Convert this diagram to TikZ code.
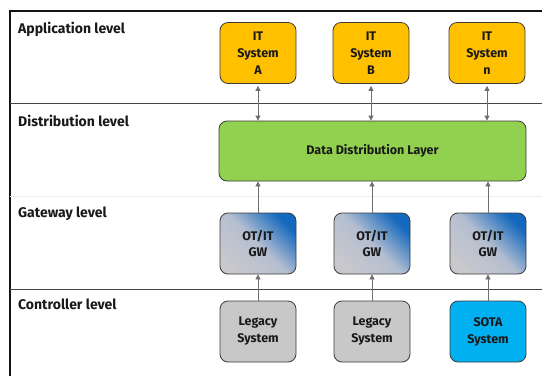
\documentclass[tikz,border=0pt]{standalone}
\usepackage{fontspec}
\setmainfont{Fira Sans}
\usetikzlibrary{
    arrows.meta,
    positioning
}
\definecolor{ink}{RGB}{25,25,25}
\definecolor{frame}{RGB}{20,20,20}
\definecolor{rule}{RGB}{70,70,70}
\definecolor{faintrule}{RGB}{238,238,240}
\definecolor{boxline}{RGB}{60,60,60}
\definecolor{wire}{RGB}{110,110,110}
\definecolor{appfill}{RGB}{255,192,0}
\definecolor{distfill}{RGB}{146,208,80}
\definecolor{gwgray}{RGB}{200,200,205}
\definecolor{gwmid}{RGB}{180,190,208}
\definecolor{gwblue}{RGB}{20,105,190}
\definecolor{legacyfill}{RGB}{200,200,200}
\definecolor{sotafill}{RGB}{0,176,240}
\tikzset{
    line cap=round,
    line join=round,
    levellabel/.style={
        font=\fontsize{14}{16}\selectfont\bfseries,
        text=ink,
        anchor=north west,
        inner sep=0pt
    },
    sysbox/.style={
        rectangle,
        draw=boxline,
        line width=0.8pt,
        rounded corners=8pt,
        minimum width=76pt,
        minimum height=61pt,
        align=center,
        font=\fontsize{12.5}{17}\selectfont\bfseries,
        text=ink
    },
    appbox/.style={sysbox, fill=appfill},
    distbox/.style={sysbox, fill=distfill, minimum width=307pt, minimum height=60pt},
    gwbox/.style={
        sysbox,
        top color=gwgray,
        bottom color=gwblue,
        middle color=gwmid,
        shading angle=135
    },
    legacybox/.style={sysbox, fill=legacyfill},
    sotabox/.style={sysbox, fill=sotafill},
    levelrule/.style={draw=rule, line width=0.7pt},
    link/.style={
        draw=wire,
        line width=0.8pt,
        -{Triangle[width=5pt,length=5pt]}
    },
    bilink/.style={
        link,
        {Triangle[width=5pt,length=5pt]}-{Triangle[width=5pt,length=5pt]}
    }
}

\begin{document}
\begin{tikzpicture}[x=1pt, y=-1pt]
\useasboundingbox[fill=white] (0,0) rectangle (542,376);

% Frame and level rules
\draw[frame, line width=1.6pt] (10,376) -- (10,11) -- (542,11);
\draw[levelrule] (10,103) -- (542,103);
\draw[draw=faintrule, line width=0.7pt] (10,196) -- (542,196);
\draw[levelrule] (10,289) -- (542,289);

% Level labels
\node[levellabel] (lapp)  at (18,22)  {Application level};
\node[levellabel] (ldist) at (18,115) {Distribution level};
\node[levellabel] (lgw)   at (18,207) {Gateway level};
\node[levellabel] (lctl)  at (18,299) {Controller level};

% === Application level ===
\node[appbox] (itA) at (258,53) {IT\\System\\A};
\node[appbox] (itB) at (371,53) {IT\\System\\B};
\node[appbox] (itN) at (487,53) {IT\\System\\n};

% === Distribution level ===
\node[distbox] (ddl) at (372.5,151) {Data Distribution Layer};

% === Gateway level ===
\node[gwbox] (gwA) at (258,243.5) {OT/IT\\GW};
\node[gwbox] (gwB) at (372,243.5) {OT/IT\\GW};
\node[gwbox] (gwN) at (488,243.5) {OT/IT\\GW};

% === Controller level ===
\node[legacybox] (ctA) at (258,331.5) {Legacy\\System};
\node[legacybox] (ctB) at (372,331.5) {Legacy\\System};
\node[sotabox]   (ctN) at (488,331.5) {SOTA\\System};

% Connectors
\foreach \col in {A,B,N} {
    \draw[bilink] (it\col.south) ++(0,2) coordinate (top\col)
        -- (top\col |- ddl.north);
    \draw[link] (gw\col.north) -- (gw\col.north |- ddl.south);
    \draw[link] (ct\col.north) -- (gw\col.south);
}

\end{tikzpicture}
\end{document}
